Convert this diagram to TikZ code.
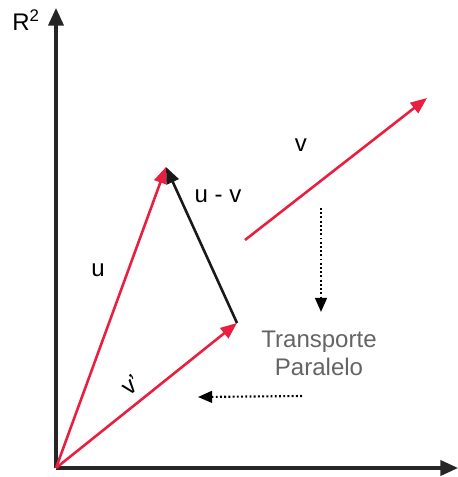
\documentclass[tikz,border=0pt]{standalone}
\usepackage{fontspec}
\setmainfont{Liberation Sans}
\usetikzlibrary{arrows.meta}
\definecolor{vecred}{RGB}{234,30,62}
\definecolor{txtgray}{RGB}{100,100,100}

\begin{document}
\begin{tikzpicture}[x=0.03cm,y=-0.03cm,
  axis/.style={draw=black!85,line width=2.6pt,-{Triangle[length=15pt,width=13pt]}},
  vec/.style={draw=vecred,line width=2.2pt,-{Triangle[length=14pt,width=11pt]}},
  diff/.style={draw=black!90,line width=2.2pt,-{Triangle[length=14pt,width=11pt]}},
  moved/.style={draw=black,line width=1.8pt,dash pattern=on 1.6pt off 2pt,-{Triangle[length=12pt,width=10pt]}},
  lbl/.style={font=\fontsize{20.5pt}{24pt}\selectfont,inner sep=0pt}]
\useasboundingbox (0,0) rectangle (458,477);
% points
\coordinate (o) at (56,468);
\coordinate (ytop) at (56,8);
\coordinate (xend) at (458,468);
\coordinate (u) at (166,167);
\coordinate (vp) at (237,323);
\coordinate (vs) at (245,240);
\coordinate (ve) at (427,98);
% axes
\draw[axis] (o) -- (ytop);
\draw[axis] (o) -- (xend);
\node[lbl] (r2) at (26,20) {R\textsuperscript{2}};
% vectors
\draw[vec] (o) -- (u);
\draw[vec] (o) -- (vp);
\draw[vec] (vs) -- (ve);
\draw[diff] (vp) -- (u);
\node[lbl] (ulbl) at (98,270) {u};
\node[lbl] (vlbl) at (301,145) {v};
\node[lbl] (uvlbl) at (218,196) {u - v};
\node[lbl,rotate=39] (vplbl) at (131,385) {v'};
% parallel transport
\node[lbl,text=txtgray,align=center] (tp) at (319,353) {Transporte\\Paralelo};
\coordinate (d1) at (321,208);
\coordinate (d2) at (321,312);
\coordinate (l1) at (302,396);
\coordinate (l2) at (198,397);
\draw[moved] (d1) -- (d2);
\draw[moved] (l1) -- (l2);
\end{tikzpicture}
\end{document}
